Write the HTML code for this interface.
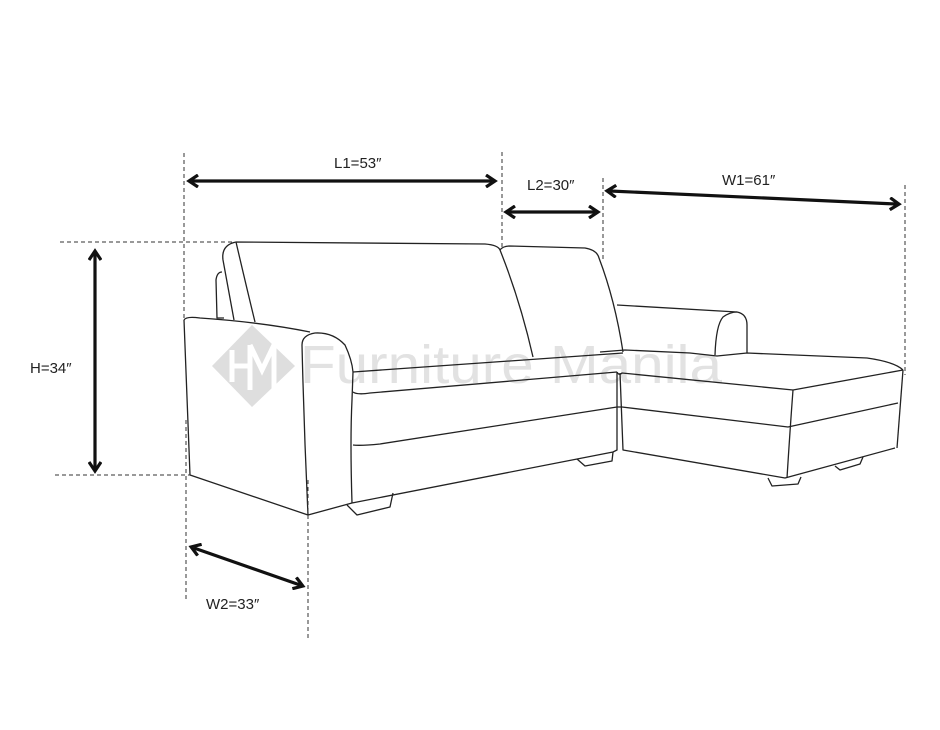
<!DOCTYPE html>
<html><head><style>
html,body{margin:0;padding:0;background:#fff;}
svg{display:block;}
text{font-family:"Liberation Sans",sans-serif;}
</style></head><body>
<svg width="940" height="730" viewBox="0 0 940 730" xmlns="http://www.w3.org/2000/svg">
<defs>
<marker id="ah" markerWidth="14" markerHeight="14" refX="7" refY="7" orient="auto-start-reverse" markerUnits="userSpaceOnUse">
<path d="M1,1 L10,7 L1,13" fill="none" stroke="#111" stroke-width="3.2"/>
</marker>
</defs>
<!-- watermark -->
<g fill="#dedede">
<path d="M252,325 L295,366 L252,407 L212,366 Z"/>
</g>
<path d="M232,350 L232,382 M232,366 L250,366 M250,345 L250,390 M250,345 L262,370 L274,345 L274,390" stroke="#fff" stroke-width="5" fill="none"/>
<text x="300" y="383" font-size="54" fill="#e2e2e2" font-weight="300" textLength="422" lengthAdjust="spacingAndGlyphs">Furniture Manila</text>

<g fill="none" stroke="#222" stroke-width="1.3" stroke-linejoin="round">
<path d="M224,318 L217,318 L216,280 Q217,272 222,272"/>
<path d="M234,320 L223,260 Q221,245 236,242 L485,244 Q498,245 500,250 Q520,300 533,357"/>
<path d="M236,242 Q246,285 255,322"/>
<path d="M500,250 Q503,246 510,246 L585,248 Q597,250 599,258 Q615,300 623,352"/>
<path d="M184,320 Q186,316 200,318 Q260,322 310,332"/>
<path d="M184,320 L190,475 L308,515"/>
<path d="M302,345 Q302,335 315,333 Q333,332 345,345 Q352,360 353,372 L352,400 Q350,440 352,503"/>
<path d="M302,345 Q304,430 308,515 L352,503"/>
<path d="M353,372 L623,353"/>
<path d="M353,392 Q357,395 370,393 L617,372"/>
<path d="M353,445 Q360,446 380,444 L617,407"/>
<path d="M352,503 L613,452 L617,450 L617,372"/>
<path d="M347,505 L357,515 L390,507 L393,493"/>
<path d="M577,459 L585,466 L612,461 L613,452"/>
<path d="M617,305 L737,312 Q747,314 747,325 L747,353"/>
<path d="M715,355 Q716,325 723,317 Q730,312 737,312"/>
<path d="M600,352 L625,350 L690,353 L717,356 L747,353 L867,358 Q895,362 903,370"/>
<path d="M617,372 Q619,376 622,373 L793,390 L903,370"/>
<path d="M617,407 L622,407 L788,427 L898,403"/>
<path d="M620,373 L623,450 L785,478 L895,448"/>
<path d="M793,390 Q790,430 787,478"/>
<path d="M903,370 Q900,410 897,448"/>
<path d="M768,478 L772,486 L798,484 L801,477"/>
<path d="M835,466 L840,470 L860,464 L863,457"/>
</g>

<g stroke="#333" stroke-width="1" stroke-dasharray="4,3" fill="none">
<path d="M184,153 V320"/>
<path d="M186,420 V600"/>
<path d="M502,152 V250"/>
<path d="M603,178 V262"/>
<path d="M905,185 V375"/>
<path d="M308,480 V640"/>
<path d="M60,242 H236"/>
<path d="M55,475 H190"/>
</g>

<g stroke="#111" stroke-width="3.2" fill="none">
<path d="M192,181 L492,181" marker-start="url(#ah)" marker-end="url(#ah)"/>
<path d="M509,212 L595,212" marker-start="url(#ah)" marker-end="url(#ah)"/>
<path d="M610,191 L896,204" marker-start="url(#ah)" marker-end="url(#ah)"/>
<path d="M95,254 L95,468" marker-start="url(#ah)" marker-end="url(#ah)"/>
<path d="M194,548 L300,585" marker-start="url(#ah)" marker-end="url(#ah)"/>
</g>

<g font-size="15" fill="#222">
<text x="334" y="168">L1=53″</text>
<text x="527" y="190">L2=30″</text>
<text x="722" y="185">W1=61″</text>
<text x="30" y="373">H=34″</text>
<text x="206" y="609">W2=33″</text>
</g>
</svg>
</body></html>
